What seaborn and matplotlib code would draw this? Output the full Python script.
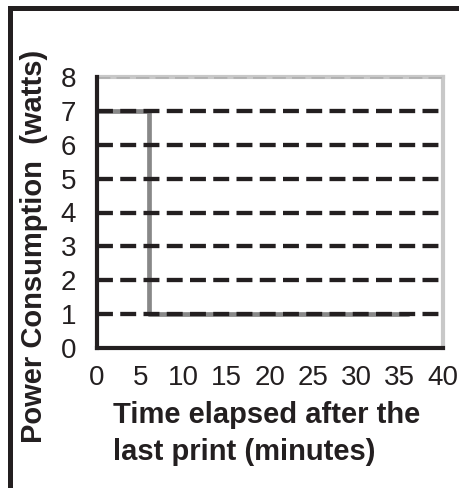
import numpy as np
import pandas as pd
from matplotlib import pyplot as plt
from matplotlib.patches import Rectangle
import seaborn as sns

# step profile of the printer after the last print
time_min = [0, 6, 36]
power_w = [7, 1, 1]
x_ticks = [0, 5, 10, 15, 20, 25, 30, 35, 40]
y_ticks = [0, 1, 2, 3, 4, 5, 6, 7, 8]

df = pd.DataFrame({'Time': time_min, 'Power': power_w})

sns.set_style("white")
plt.rcParams['font.family'] = ['Liberation Sans', 'DejaVu Sans']

fig = plt.figure(figsize=(4.6, 4.88), dpi=100)
ax = fig.add_axes([97 / 460, 1 - 348 / 488, (443 - 97) / 460, (348 - 77) / 488])

sns.lineplot(data=df, x='Time', y='Power', drawstyle='steps-post',
             color='#888888', linewidth=3.4, ax=ax, zorder=2)

ax.set_xlim(0, 40)
ax.set_ylim(0, 8)
ax.set_xticks(x_ticks)
ax.set_yticks(y_ticks)
ax.set_xlabel('')
ax.set_ylabel('')

# dashed black gridlines on top of the line
ax.set_axisbelow(False)
ax.yaxis.grid(True, color='#231f20', linestyle=(0, (3.7, 1.7)), linewidth=3.1)
gl = ax.yaxis.get_gridlines()
gl[0].set_visible(False)
gl[-1].set_color('#b0b0b0')
gl[-1].set_linewidth(2.6)

# spines
for side in ['left', 'bottom']:
    ax.spines[side].set_color('#231f20')
    ax.spines[side].set_linewidth(3.0)
for side in ['top', 'right']:
    ax.spines[side].set_color('#c8c8c8')
    ax.spines[side].set_linewidth(3.0)
ax.spines['left'].set_zorder(5)
ax.spines['bottom'].set_zorder(5)

ax.tick_params(axis='x', direction='out', length=4, width=3, color='#231f20',
               labelsize=20, pad=8, labelcolor='#231f20')
ax.tick_params(axis='y', direction='out', length=4, width=3, color='#231f20',
               labelsize=20, pad=11, labelcolor='#231f20')

fig.text(0.074, 0.495, 'Power Consumption  (watts)', rotation=90,
         ha='center', va='center', fontsize=21, fontweight='bold', color='#231f20')
fig.text(113 / 460, 1 - 401 / 488, 'Time elapsed after the\nlast print (minutes)',
         ha='left', va='top', fontsize=21, fontweight='bold', color='#231f20',
         linespacing=1.4)

# outer frame of the figure
fig.patches.append(Rectangle((10.5 / 460, -0.2), 1.5, 1 - 7.5 / 488 + 0.2,
                             transform=fig.transFigure, fill=False,
                             edgecolor='#231f20', linewidth=3.6, clip_on=False))

fig.savefig('out.png', dpi=100)
